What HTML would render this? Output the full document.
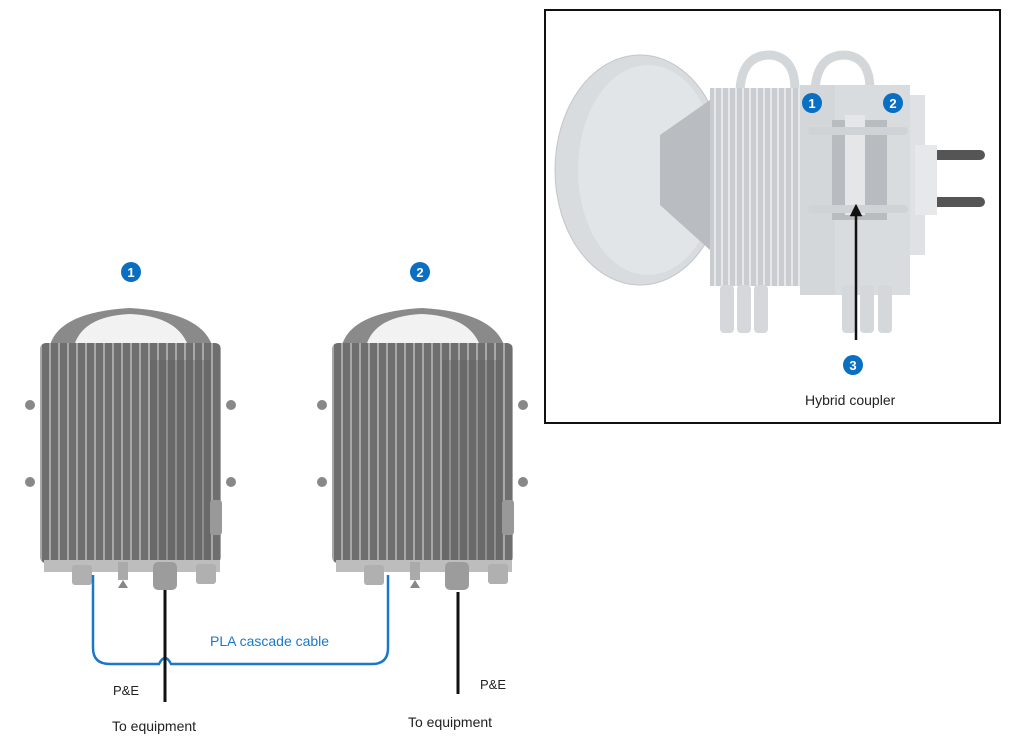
<!DOCTYPE html>
<html><head><meta charset="utf-8"><style>
html,body{margin:0;padding:0;background:#fff;}
svg{display:block;}
text{font-family:"Liberation Sans",sans-serif;}
</style></head><body>
<svg width="1012" height="747" viewBox="0 0 1012 747" xmlns="http://www.w3.org/2000/svg">
<defs>
<linearGradient id="fin" x1="0" x2="1" y1="0" y2="0">
<stop offset="0" stop-color="#9a9a9a"/><stop offset="0.5" stop-color="#6e6e6e"/><stop offset="1" stop-color="#7c7c7c"/>
</linearGradient>
<pattern id="fins" width="9" height="10" patternUnits="userSpaceOnUse">
<rect width="9" height="10" fill="#6f6f6f"/><rect x="0" width="2" height="10" fill="#a8a8a8"/>
</pattern>
<pattern id="finsL" width="7" height="10" patternUnits="userSpaceOnUse">
<rect width="7" height="10" fill="#c9cdd1"/><rect x="0" width="2" height="10" fill="#e6e8ea"/>
</pattern>
<g id="dev">
<path d="M10,45 Q20,12 90,8 Q160,12 172,45 Z" fill="#8a8a8a"/>
<path d="M35,43 Q45,16 90,14 Q135,16 147,43 Z" fill="#f2f2f2"/>
<rect x="0" y="43" width="181" height="220" rx="6" fill="url(#fins)"/>
<rect x="110" y="60" width="60" height="200" fill="#5e5e5e" opacity="0.35"/>
<circle cx="-10" cy="105" r="5" fill="#888"/><circle cx="191" cy="105" r="5" fill="#888"/>
<circle cx="-10" cy="182" r="5" fill="#888"/><circle cx="191" cy="182" r="5" fill="#888"/>
<rect x="170" y="200" width="12" height="35" rx="3" fill="#999"/>
<rect x="4" y="260" width="176" height="12" fill="#bdbdbd"/>
<rect x="32" y="265" width="20" height="20" rx="3" fill="#b0b0b0"/>
<rect x="78" y="262" width="10" height="18" fill="#aaa"/><path d="M78,288 L88,288 L83,280Z" fill="#888"/>
<rect x="113" y="262" width="24" height="28" rx="5" fill="#9c9c9c"/>
<rect x="156" y="264" width="20" height="20" rx="3" fill="#b0b0b0"/>
</g>
<marker id="ah" viewBox="0 0 10 10" refX="5" refY="5" markerWidth="5" markerHeight="5" orient="auto"><path d="M0,0 L10,5 L0,10Z" fill="#111"/></marker>
</defs>

<use href="#dev" x="40" y="300"/>
<use href="#dev" x="332" y="300"/>

<circle cx="131" cy="272" r="10" fill="#0a6fc2"/><text x="131" y="277" font-size="13" font-weight="bold" fill="#fff" text-anchor="middle">1</text>
<circle cx="420" cy="272" r="10" fill="#0a6fc2"/><text x="420" y="277" font-size="13" font-weight="bold" fill="#fff" text-anchor="middle">2</text>

<path d="M93,575 L93,648 Q93,664 110,664 L159,664 Q165,652 171,664 L372,664 Q388,664 388,648 L388,575" fill="none" stroke="#1a78c8" stroke-width="2.5"/>
<line x1="165" y1="590" x2="165" y2="702" stroke="#111" stroke-width="3"/>
<line x1="458" y1="592" x2="458" y2="694" stroke="#111" stroke-width="3"/>
<text x="210" y="646" font-size="14" fill="#1a78c8">PLA cascade cable</text>
<text x="113" y="695" font-size="13" fill="#222">P&amp;E</text>
<text x="112" y="731" font-size="14" fill="#222">To equipment</text>
<text x="480" y="689" font-size="13" fill="#222">P&amp;E</text>
<text x="408" y="727" font-size="14" fill="#222">To equipment</text>

<rect x="545" y="10" width="455" height="413" fill="#fff" stroke="#111" stroke-width="2"/>
<!-- dish -->
<ellipse cx="640" cy="170" rx="85" ry="115" fill="#d8dcdf" stroke="#c2c6ca"/>
<ellipse cx="648" cy="170" rx="70" ry="105" fill="#e2e5e8"/>
<path d="M660,135 L710,100 L710,250 L660,205 Z" fill="#b9bdc1"/>
<!-- back units -->
<path d="M740,90 Q742,55 770,55 Q795,57 795,90" fill="none" stroke="#d3d7da" stroke-width="9"/>
<path d="M815,90 Q817,55 845,55 Q870,57 870,90" fill="none" stroke="#d3d7da" stroke-width="9"/>
<rect x="880" y="95" width="45" height="160" fill="#dfe2e5"/>
<rect x="830" y="85" width="80" height="210" fill="#d9dcdf"/>
<rect x="710" y="88" width="92" height="198" fill="url(#finsL)"/>
<rect x="800" y="85" width="35" height="210" fill="#d3d7da"/>
<rect x="832" y="120" width="55" height="100" fill="#b8bcc0"/>
<rect x="845" y="115" width="20" height="100" fill="#e4e6e8"/>
<rect x="808" y="127" width="100" height="8" rx="4" fill="#cfd3d6"/>
<rect x="808" y="205" width="100" height="8" rx="4" fill="#cfd3d6"/>
<rect x="925" y="150" width="60" height="10" rx="5" fill="#555"/>
<rect x="925" y="197" width="60" height="10" rx="5" fill="#555"/>
<rect x="915" y="145" width="22" height="70" fill="#e6e8ea"/>
<g fill="#d4d8db">
<rect x="720" y="285" width="14" height="48" rx="4"/><rect x="737" y="285" width="14" height="48" rx="4"/><rect x="754" y="285" width="14" height="48" rx="4"/>
<rect x="842" y="285" width="14" height="48" rx="4"/><rect x="860" y="285" width="14" height="48" rx="4"/><rect x="878" y="285" width="14" height="48" rx="4"/>
</g>
<line x1="856" y1="340" x2="856" y2="210" stroke="#111" stroke-width="2.5" marker-end="url(#ah)"/>
<circle cx="812" cy="103" r="10" fill="#0a6fc2"/><text x="812" y="108" font-size="13" font-weight="bold" fill="#fff" text-anchor="middle">1</text>
<circle cx="893" cy="103" r="10" fill="#0a6fc2"/><text x="893" y="108" font-size="13" font-weight="bold" fill="#fff" text-anchor="middle">2</text>
<circle cx="853" cy="365" r="10" fill="#0a6fc2"/><text x="853" y="370" font-size="13" font-weight="bold" fill="#fff" text-anchor="middle">3</text>
<text x="805" y="405" font-size="14" fill="#222">Hybrid coupler</text>
</svg>
</body></html>
